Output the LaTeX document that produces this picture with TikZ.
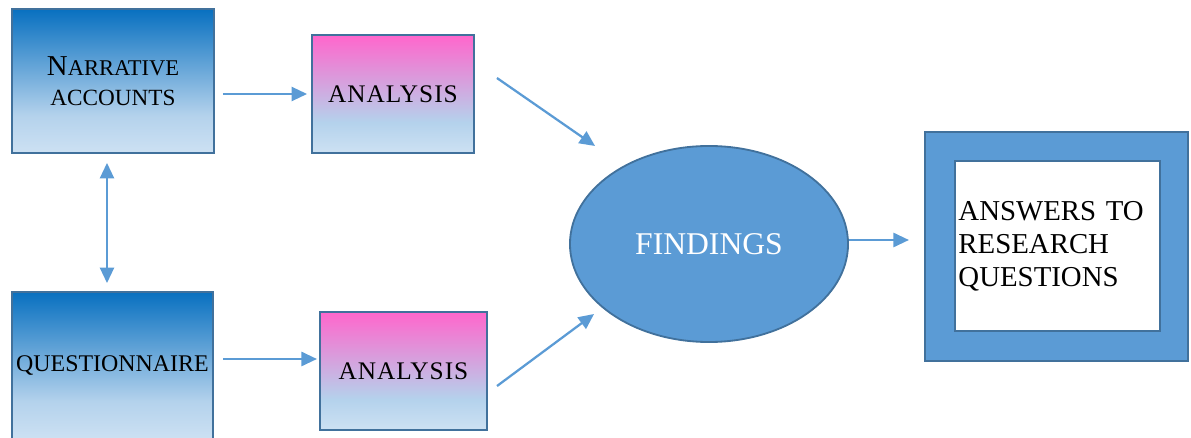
\documentclass[tikz,border=0pt]{standalone}
\usepackage{fontspec}
\setmainfont{Liberation Serif}
\usetikzlibrary{arrows.meta,shapes.geometric}
\definecolor{edgeblue}{RGB}{65,113,156}
\definecolor{flowblue}{RGB}{91,155,213}
\definecolor{topblue}{RGB}{8,112,192}
\definecolor{toppink}{RGB}{255,102,204}
\definecolor{midlight}{RGB}{180,210,236}
\definecolor{lowlight}{RGB}{205,225,243}
\pgfdeclareverticalshading{boxblue}{100bp}{color(0bp)=(lowlight); color(25bp)=(lowlight); color(38bp)=(midlight); color(75bp)=(topblue); color(100bp)=(topblue)}
\pgfdeclareverticalshading{boxpink}{100bp}{color(0bp)=(lowlight); color(25bp)=(lowlight); color(38bp)=(midlight); color(75bp)=(toppink); color(100bp)=(toppink)}

\begin{document}
\begin{tikzpicture}
        [x=0.025cm,y=-0.025cm]
            \tikzstyle{every node}=[draw=edgeblue, line width=1.3pt, inner sep=2pt,
        font=\fontsize{17}{20}\selectfont]
            \tikzstyle{flow}=[draw=flowblue, line width=1.6pt,
        -{Triangle[length=11pt,width=10pt]}]
        \useasboundingbox (0,0) rectangle (1191,438);
        %-----sources
         \node[shading=boxblue, minimum width=5.05cm, minimum height=3.6cm, align=center]  (narr) at (113,81)
            {{\fontsize{20.5}{20}\selectfont N}{\fontsize{16}{18}\selectfont ARRATIVE}\\[1pt]{\fontsize{16.5}{18}\selectfont ACCOUNTS}};
         \node[shading=boxblue, minimum width=5.03cm, minimum height=3.7cm]  (quest) at (112.5,366) {QUESTIONNAIRE};
        %-----analysis
         \node[shading=boxpink, minimum width=4.05cm, minimum height=2.95cm]  (ana1) at (393,94) {\fontsize{18}{20}\selectfont\addfontfeature{LetterSpace=4}ANALYSIS};
         \node[shading=boxpink, minimum width=4.18cm, minimum height=2.95cm]  (ana2) at (403.5,371) {\fontsize{18}{20}\selectfont\addfontfeature{LetterSpace=4}ANALYSIS};
        %-----findings
         \node[ellipse, fill=flowblue, text=white, minimum width=6.95cm, minimum height=4.9cm,
            font=\fontsize{22.5}{24}\selectfont]  (find) at (709,244) {FINDINGS};
        %-----answers
         \node[fill=flowblue, minimum width=6.58cm, minimum height=5.73cm]  (outer) at (1056.5,246.5) {};
         \node[fill=white, minimum width=5.13cm, minimum height=4.25cm, text width=4.95cm, align=left,
            font=\fontsize{20.5}{23.5}\selectfont]  (answ) at (1057.5,246) {ANSWERS TO\\RESEARCH\\QUESTIONS};

         \draw[flow] ([shift={(8,13)}]narr.east) -- ([shift={(-4,0)}]ana1.west);
         \draw[flow] ([shift={(9,-7)}]quest.east) -- ([shift={(-2,-12)}]ana2.west);
         \draw[flow, {Triangle[length=11pt,width=10pt]}-{Triangle[length=11pt,width=10pt]}]
            ([shift={(-6,9)}]narr.south) -- ([shift={(-5.5,-8)}]quest.north);
         \draw[flow] ([shift={(22,-16)}]ana1.east) -- ([shift={(26,-98)}]find.west);
         \draw[flow] ([shift={(9,15)}]ana2.east) -- ([shift={(25,70)}]find.west);
         \draw[flow] ([shift={(0,-4)}]find.east) -- ([shift={(-15,-6.5)}]outer.west);

    % sources to answers
        \end{tikzpicture}
\end{document}
